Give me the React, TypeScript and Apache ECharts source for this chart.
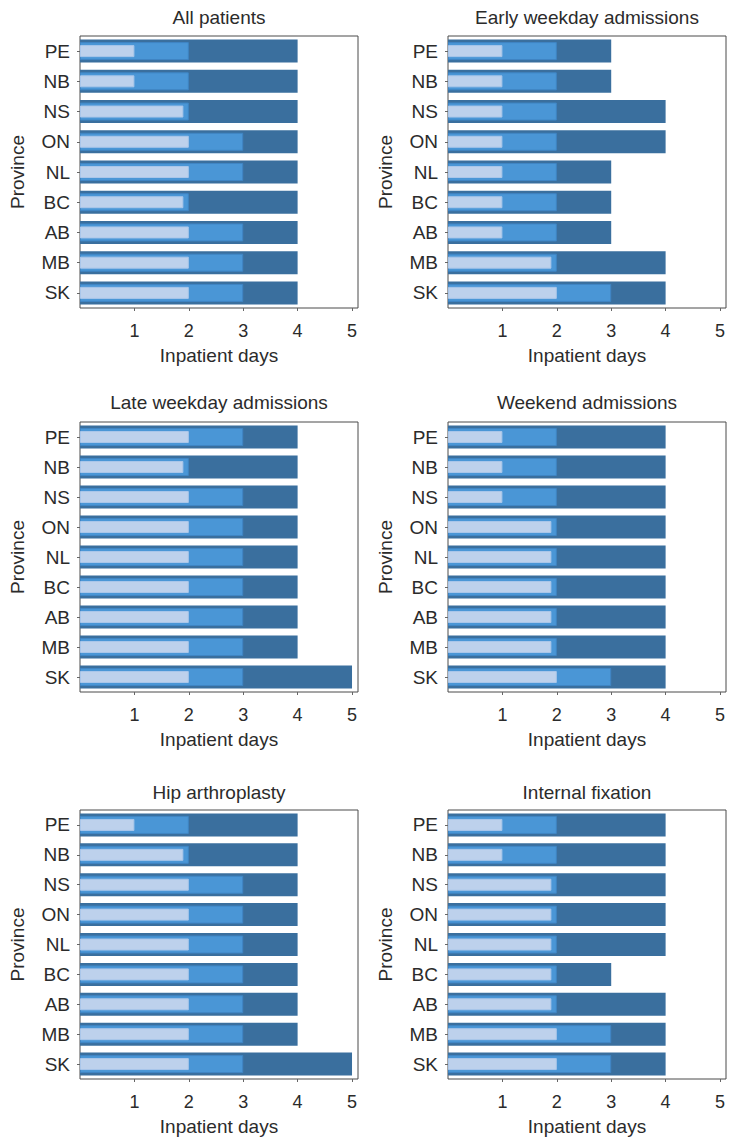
import React, { useEffect, useRef } from "react";
import * as echarts from "echarts";

const provinces = ["PE", "NB", "NS", "ON", "NL", "BC", "AB", "MB", "SK"];
const xTicks = [1, 2, 3, 4, 5];
const panelTitles = [
  "All patients",
  "Early weekday admissions",
  "Late weekday admissions",
  "Weekend admissions",
  "Hip arthroplasty",
  "Internal fixation",
];

// Values listed top-to-bottom: PE, NB, NS, ON, NL, BC, AB, MB, SK
const allQ1 = [1, 1, 1.9, 2, 2, 1.9, 2, 2, 2];
const allMedian = [2, 2, 2, 3, 3, 2, 3, 3, 3];
const allQ3 = [4, 4, 4, 4, 4, 4, 4, 4, 4];

const earlyQ1 = [1, 1, 1, 1, 1, 1, 1, 1.9, 2];
const earlyMedian = [2, 2, 2, 2, 2, 2, 2, 2, 3];
const earlyQ3 = [3, 3, 4, 4, 3, 3, 3, 4, 4];

const lateQ1 = [2, 1.9, 2, 2, 2, 2, 2, 2, 2];
const lateMedian = [3, 2, 3, 3, 3, 3, 3, 3, 3];
const lateQ3 = [4, 4, 4, 4, 4, 4, 4, 4, 5];

const weekendQ1 = [1, 1, 1, 1.9, 1.9, 1.9, 1.9, 1.9, 2];
const weekendMedian = [2, 2, 2, 2, 2, 2, 2, 2, 3];
const weekendQ3 = [4, 4, 4, 4, 4, 4, 4, 4, 4];

const hipQ1 = [1, 1.9, 2, 2, 2, 2, 2, 2, 2];
const hipMedian = [2, 2, 3, 3, 3, 3, 3, 3, 3];
const hipQ3 = [4, 4, 4, 4, 4, 4, 4, 4, 5];

const fixQ1 = [1, 1, 1.9, 1.9, 1.9, 1.9, 1.9, 2, 2];
const fixMedian = [2, 2, 2, 2, 2, 2, 2, 3, 3];
const fixQ3 = [4, 4, 4, 4, 4, 3, 4, 4, 4];

const panelData = [
  [allQ1, allMedian, allQ3],
  [earlyQ1, earlyMedian, earlyQ3],
  [lateQ1, lateMedian, lateQ3],
  [weekendQ1, weekendMedian, weekendQ3],
  [hipQ1, hipMedian, hipQ3],
  [fixQ1, fixMedian, fixQ3],
];

const FONT = "Liberation Sans, Arial, sans-serif";
const TEXT = "#2b2b2b";
const DARK = "#3a6f9e";
const MID = "#4a96d6";
const LIGHT = "#bdd1ec";

const colLeft = [80, 448];
const colWidth = 278;
const rowTop = [36, 422, 810];
const rowHeight = [272, 270, 271];
const titleY = [17, 402, 792];

export default function App() {
  const ref = useRef<HTMLDivElement>(null);

  useEffect(() => {
    if (!ref.current) return;
    const chart = echarts.init(ref.current, undefined, { renderer: "svg" });

    const grids: any[] = [];
    const xAxes: any[] = [];
    const yAxes: any[] = [];
    const series: any[] = [];
    const graphics: any[] = [];

    panelData.forEach((pd, i) => {
      const r = Math.floor(i / 2);
      const c = i % 2;
      grids.push({
        left: colLeft[c],
        top: rowTop[r],
        width: colWidth,
        height: rowHeight[r],
        show: true,
        borderColor: "#4a4a4a",
        borderWidth: 1,
        backgroundColor: "#ffffff",
      });
      xAxes.push({
        type: "value",
        gridIndex: i,
        min: 0,
        max: 5.11,
        axisLine: { show: false },
        axisTick: {
          show: true,
          customValues: xTicks,
          length: 3,
          lineStyle: { color: "#666" },
        },
        axisLabel: {
          customValues: xTicks,
          fontSize: 18,
          color: TEXT,
          fontFamily: FONT,
          margin: 14,
        },
        splitLine: { show: false },
        name: "Inpatient days",
        nameLocation: "middle",
        nameGap: 38,
        nameTextStyle: { fontSize: 19, color: TEXT, fontFamily: FONT },
      });
      for (let k = 0; k < 3; k++) {
        yAxes.push({
          type: "category",
          gridIndex: i,
          data: provinces,
          inverse: true,
          show: k === 0,
          axisLine: { show: false },
          axisTick: {
            show: k === 0,
            alignWithLabel: true,
            length: 3,
            lineStyle: { color: "#666" },
          },
          axisLabel: {
            show: k === 0,
            fontSize: 19,
            color: TEXT,
            fontFamily: FONT,
            margin: 10,
          },
          name: k === 0 ? "Province" : "",
          nameLocation: "middle",
          nameGap: 53,
          nameRotate: 90,
          nameTextStyle: { fontSize: 19, color: TEXT, fontFamily: FONT },
        });
      }
      const [q1, med, q3] = pd;
      series.push({
        type: "bar",
        name: "Q3",
        xAxisIndex: i,
        yAxisIndex: 3 * i,
        data: q3,
        barWidth: 23,
        itemStyle: { color: DARK },
        z: 2,
      });
      series.push({
        type: "bar",
        name: "Median",
        xAxisIndex: i,
        yAxisIndex: 3 * i + 1,
        data: med,
        barWidth: 18,
        itemStyle: { color: MID, borderColor: "#3f85c4", borderWidth: 1 },
        z: 3,
      });
      series.push({
        type: "bar",
        name: "Q1",
        xAxisIndex: i,
        yAxisIndex: 3 * i + 2,
        data: q1,
        barWidth: 12,
        itemStyle: { color: LIGHT, borderColor: "#a9c6ea", borderWidth: 1 },
        z: 4,
      });
      graphics.push({
        type: "text",
        x: colLeft[c] + colWidth / 2,
        y: titleY[r],
        style: {
          text: panelTitles[i],
          align: "center",
          verticalAlign: "middle",
          fontSize: 19,
          fontFamily: FONT,
          fill: TEXT,
        },
      });
    });

    chart.setOption({
      animation: false,
      backgroundColor: "#ffffff",
      grid: grids,
      xAxis: xAxes,
      yAxis: yAxes,
      series,
      graphic: graphics,
    });

    return () => chart.dispose();
  }, []);

  return (
    <div
      ref={ref}
      style={{ position: "fixed", left: 0, top: 0, width: 729, height: 1137 }}
    />
  );
}
